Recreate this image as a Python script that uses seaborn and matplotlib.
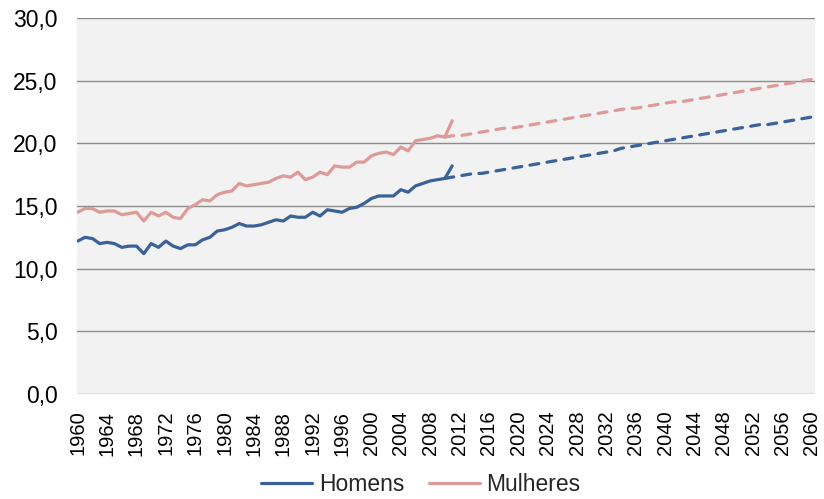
import matplotlib
matplotlib.use("Agg")
import matplotlib.pyplot as plt
from matplotlib.lines import Line2D
from matplotlib.ticker import FuncFormatter
import numpy as np
import pandas as pd
import seaborn as sns

# Observed series, 1960-2011
anos_obs = list(range(1960, 2012))
homens_obs = [12.2, 12.5, 12.4, 12.0, 12.1, 12.0, 11.7, 11.8, 11.8, 11.2,
              12.0, 11.7, 12.2, 11.8, 11.6, 11.9, 11.9, 12.3, 12.5, 13.0,
              13.1, 13.3, 13.6, 13.4, 13.4, 13.5, 13.7, 13.9, 13.8, 14.2,
              14.1, 14.1, 14.5, 14.2, 14.7, 14.6, 14.5, 14.8, 14.9, 15.2,
              15.6, 15.8, 15.8, 15.8, 16.3, 16.1, 16.6, 16.8, 17.0, 17.1,
              17.2, 18.2]
mulheres_obs = [14.5, 14.8, 14.8, 14.5, 14.6, 14.6, 14.3, 14.4, 14.5, 13.8,
                14.5, 14.2, 14.5, 14.1, 14.0, 14.8, 15.1, 15.5, 15.4, 15.9,
                16.1, 16.2, 16.8, 16.6, 16.7, 16.8, 16.9, 17.2, 17.4, 17.3,
                17.7, 17.1, 17.3, 17.7, 17.5, 18.2, 18.1, 18.1, 18.5, 18.5,
                19.0, 19.2, 19.3, 19.1, 19.7, 19.4, 20.2, 20.3, 20.4, 20.6,
                20.5, 21.8]

# Projected series, 2010-2060
anos_proj = list(range(2010, 2061))
homens_proj = [17.2, 17.3, 17.4, 17.5, 17.6, 17.6, 17.7, 17.8, 17.9, 18.0,
               18.1, 18.2, 18.3, 18.4, 18.5, 18.6, 18.7, 18.8, 18.9, 19.0,
               19.1, 19.2, 19.3, 19.4, 19.6, 19.7, 19.8, 19.9, 20.0, 20.1,
               20.2, 20.3, 20.4, 20.5, 20.6, 20.7, 20.8, 20.9, 21.0, 21.1,
               21.2, 21.3, 21.4, 21.5, 21.5, 21.6, 21.7, 21.8, 21.9, 22.0,
               22.1]
mulheres_proj = [20.5, 20.6, 20.6, 20.7, 20.8, 20.9, 21.0, 21.1, 21.2, 21.2,
                 21.3, 21.4, 21.5, 21.6, 21.7, 21.8, 21.9, 22.0, 22.1, 22.2,
                 22.3, 22.4, 22.5, 22.6, 22.7, 22.8, 22.8, 22.9, 23.0, 23.1,
                 23.2, 23.3, 23.3, 23.4, 23.5, 23.6, 23.7, 23.8, 23.9, 24.0,
                 24.1, 24.2, 24.3, 24.4, 24.5, 24.6, 24.7, 24.8, 24.9, 25.0,
                 25.1]

series = ["Homens", "Mulheres"]
cores = {"Homens": "#3A6198", "Mulheres": "#DE9A98"}

obs = pd.DataFrame({
    "ano": anos_obs * 2,
    "valor": homens_obs + mulheres_obs,
    "sexo": ["Homens"] * len(anos_obs) + ["Mulheres"] * len(anos_obs),
})
proj = pd.DataFrame({
    "ano": anos_proj * 2,
    "valor": homens_proj + mulheres_proj,
    "sexo": ["Homens"] * len(anos_proj) + ["Mulheres"] * len(anos_proj),
})

sns.set_theme(style="white")
plt.rcParams["font.family"] = ["Liberation Sans", "DejaVu Sans"]

fig = plt.figure(figsize=(8.24, 4.99), dpi=100)
ax = fig.add_axes([0.0934, 0.2104, 0.8956, 0.7536])
ax.set_facecolor("#F2F2F2")

lw = 2.3
sns.lineplot(data=obs, x="ano", y="valor", hue="sexo", palette=cores,
             hue_order=series, linewidth=lw, legend=False, ax=ax,
             solid_capstyle="round", solid_joinstyle="round")
sns.lineplot(data=proj, x="ano", y="valor", hue="sexo", palette=cores,
             hue_order=series, linewidth=lw, legend=False, ax=ax,
             dashes=(2.8, 2.6), dash_capstyle="round")

ax.set_xlim(1959.9, 2060.4)
ax.set_ylim(0, 30)
ax.set_yticks(np.arange(0, 31, 5))
ax.yaxis.set_major_formatter(FuncFormatter(lambda v, p: f"{v:.1f}".replace(".", ",")))
ax.set_xticks(range(1960, 2061, 4))
ax.tick_params(axis="x", labelrotation=90, labelsize=14.5, pad=12, length=0,
               colors="black")
ax.tick_params(axis="y", labelsize=16.5, pad=14, length=0, colors="black")
ax.grid(axis="y", color="#8C8C8C", linewidth=1.0)
ax.grid(axis="x", visible=False)
ax.set_axisbelow(True)
for s in ax.spines.values():
    s.set_visible(False)
ax.set_xlabel("")
ax.set_ylabel("")

handles = [Line2D([0], [0], color=cores[s], linewidth=lw) for s in series]
fig.legend(handles, series, loc="lower center", bbox_to_anchor=(0.511, -0.035),
           ncol=2, frameon=False, fontsize=16.5, handlelength=2.2,
           handletextpad=0.3, columnspacing=1.1)

fig.savefig("out.png", dpi=100, facecolor="white")
